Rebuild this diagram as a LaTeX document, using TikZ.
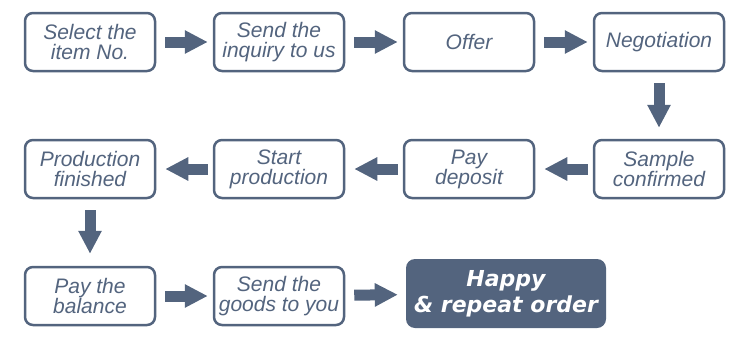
\documentclass[tikz,border=0pt]{standalone}
\usepackage{fontspec}
\setmainfont{Liberation Sans}
\newfontfamily\happyfont{DejaVu Sans Bold Oblique}
\usetikzlibrary{arrows.meta}
\definecolor{slate}{RGB}{83,100,126}

\begin{document}
\begin{tikzpicture}[x=1pt, y=-1pt,
      stepbox/.style={draw=slate, line width=2.5pt, rounded corners=8pt, fill=white,
                   minimum width=130pt, minimum height=58pt, inner sep=0pt, align=center,
                   text=slate, font=\fontsize{21}{20}\selectfont\itshape},
      goal/.style={fill=slate, rounded corners=9pt, minimum width=200pt,
                   minimum height=69pt, inner sep=0pt, align=center, text=white,
                   font=\fontsize{22}{26}\selectfont\happyfont},
      arr/.style={-{Triangle[length=23pt, width=22pt]}, line width=11pt, draw=slate}
    ]
      \useasboundingbox (0,0) rectangle (750,343);
      \node[stepbox] (select) at (90,42) {Select the\\item No.};
      \node[stepbox] (inquiry) at (279,42) {Send the\\inquiry to us};
      \node[stepbox] (offer) at (469,42) {Offer};
      \node[stepbox] (nego) at (659,42) {Negotiation};
      \node[stepbox] (sample) at (659,169) {Sample\\confirmed};
      \node[stepbox] (deposit) at (469,169) {Pay\\deposit};
      \node[stepbox] (start) at (279,169) {Start\\production};
      \node[stepbox] (finished) at (90,169) {Production\\finished};
      \node[stepbox] (balance) at (90,296) {Pay the\\balance};
      \node[stepbox] (goods) at (279,296) {Send the\\goods to you};
      \node[goal] (happy) at (506,293.5) {Happy\\\& repeat order};

      \draw[arr, shorten <=9pt, shorten >=5pt] (select) -- (inquiry);
      \draw[arr, shorten <=9pt, shorten >=5pt] (inquiry) -- (offer);
      \draw[arr, shorten <=9pt, shorten >=5pt] (offer) -- (nego);
      \draw[arr, shorten <=11pt, shorten >=11pt] (nego) -- (sample);
      \draw[arr, shorten <=5pt, shorten >=9pt] (sample) -- (deposit);
      \draw[arr, shorten <=5pt, shorten >=9pt] (deposit) -- (start);
      \draw[arr, shorten <=5pt, shorten >=9pt] (start) -- (finished);
      \draw[arr, shorten <=11pt, shorten >=12pt] (finished) -- (balance);
      \draw[arr, shorten <=9pt, shorten >=5pt] (balance) -- (goods);
      \draw[arr, shorten <=9pt, shorten >=8pt] (goods) -- (happy);
    \end{tikzpicture}
\end{document}
